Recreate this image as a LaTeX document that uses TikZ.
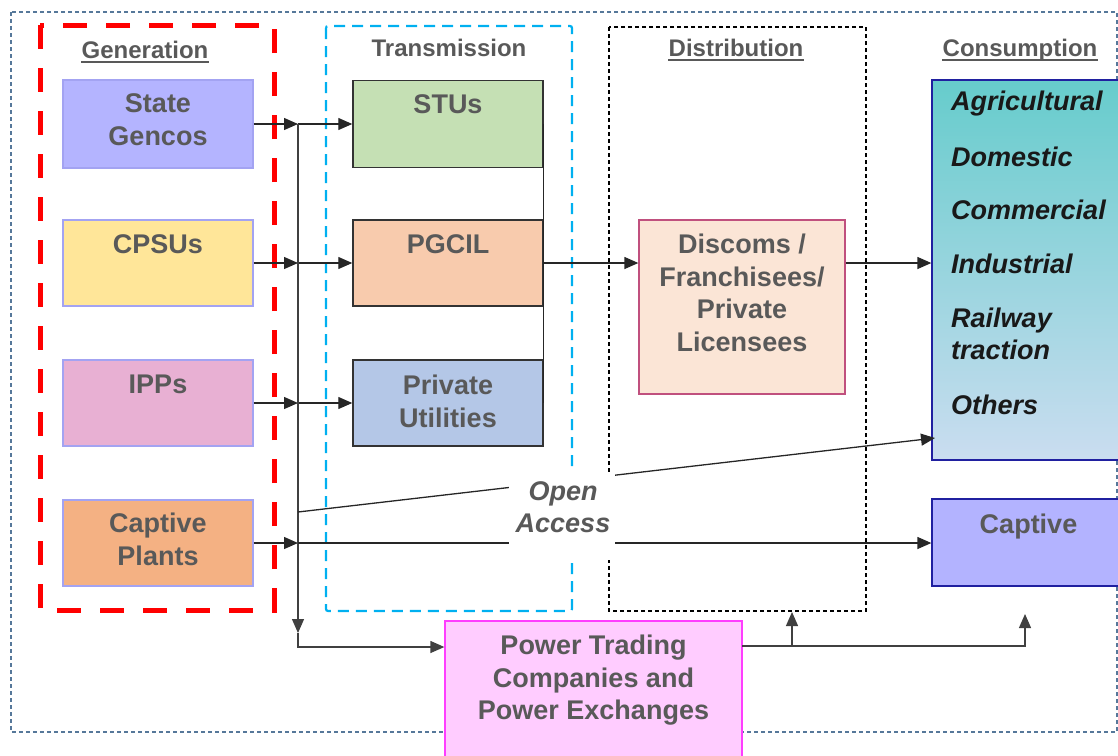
\documentclass[tikz,border=0pt]{standalone}
\usepackage{fontspec}
\setmainfont{Liberation Sans}
\usetikzlibrary{arrows.meta,calc}
\definecolor{txtgrey}{HTML}{595959}
\definecolor{genedge}{HTML}{A3A3F2}
\definecolor{sgfill}{HTML}{B4B4FF}
\definecolor{cpfill}{HTML}{FFE699}
\definecolor{ipfill}{HTML}{E8B0D3}
\definecolor{cafill}{HTML}{F4B183}
\definecolor{stufill}{HTML}{C5E0B4}
\definecolor{pgfill}{HTML}{F8CBAD}
\definecolor{pufill}{HTML}{B4C7E7}
\definecolor{disfill}{HTML}{FBE5D6}
\definecolor{disedge}{HTML}{C0507E}
\definecolor{constop}{HTML}{66CCCC}
\definecolor{consbot}{HTML}{CADDF0}
\definecolor{navyedge}{HTML}{2020A0}
\definecolor{ccfill}{HTML}{B3B3FF}
\definecolor{ptfill}{HTML}{FFCCFF}
\definecolor{ptedge}{HTML}{FF3DFF}
\definecolor{outeredge}{HTML}{56789A}
\definecolor{cyanedge}{HTML}{00B0F0}
\newcommand\boxfont{\fontsize{27}{32.5}\selectfont\bfseries}
\newcommand\headfont{\fontsize{24}{28}\selectfont\bfseries}
\begin{document}
\begin{tikzpicture}[x=1pt,y=-1pt,
  genbox/.style={draw=genedge, line width=1.2pt, minimum width=190pt, inner sep=0pt},
  trbox/.style={draw=black!80, line width=1.5pt, minimum width=190pt, inner sep=0pt},
  lbl/.style={anchor=north, inner sep=0pt, align=center, text=txtgrey, font=\boxfont},
  conslbl/.style={anchor=west, inner sep=0pt, align=left, text=black!90, font=\boxfont\itshape},
  head/.style={anchor=base, inner sep=0pt, text=txtgrey, font=\headfont},
  ul/.style={draw=txtgrey, line width=2pt},
  arr/.style={line width=1.3pt, -{Triangle[length=14pt,width=12pt]}},
  bus/.style={draw=black!75, line width=2pt},
  link/.style={draw=black!85, line width=1.3pt}]
\useasboundingbox (0,0) rectangle (1118,755);
\clip (0,0) rectangle (1118,755);

% sector frames
\draw[outeredge, line width=1.1pt, dash pattern=on 4pt off 3pt] (11,12) rectangle (1117,732);
\draw[red, line width=5pt, dash pattern=on 24pt off 19pt] (40,25) rectangle (274,610);
\draw[cyanedge, line width=2.2pt, dash pattern=on 11pt off 7pt, rounded corners=2pt] (326,26) rectangle (572,611);
\draw[black, line width=1.2pt, dash pattern=on 4pt off 3pt] (609,27) rectangle (866,611);

% headings
\node[head] (hgen) at (145,58) {Generation};
\draw[ul] ([yshift=-4pt]hgen.base west) -- ([yshift=-4pt]hgen.base east);
\node[head] (htr) at (449,56) {Transmission};
\node[head] (hdis) at (736,56) {Distribution};
\draw[ul] ([yshift=-4pt]hdis.base west) -- ([yshift=-4pt]hdis.base east);
\node[head] (hcon) at (1020,56) {Consumption};
\draw[ul] ([yshift=-4pt]hcon.base west) -- ([yshift=-4pt]hcon.base east);

% generation
\node[genbox, fill=sgfill, minimum height=88pt] (sg) at (158,124) {};
\node[lbl] (sgt) at ([yshift=-14.5pt]sg.north) {State\\Gencos};
\node[genbox, fill=cpfill, minimum height=86pt] (cp) at (158,263) {};
\node[lbl] (cpt) at ([yshift=-15.5pt]cp.north) {CPSUs};
\node[genbox, fill=ipfill, minimum height=86pt] (ip) at (158,403) {};
\node[lbl] (ipt) at ([yshift=-15.5pt]ip.north) {IPPs};
\node[genbox, fill=cafill, minimum height=86pt] (ca) at (158,543) {};
\node[lbl] (cat) at ([yshift=-13.5pt]ca.north) {Captive\\Plants};

% transmission
\node[trbox, fill=stufill, minimum height=87pt] (stu) at (448,124) {};
\node[lbl] (stut) at ([yshift=-14.5pt]stu.north) {STUs};
\node[trbox, fill=pgfill, minimum height=86pt] (pg) at (448,263) {};
\node[lbl] (pgt) at ([yshift=-15.5pt]pg.north) {PGCIL};
\node[trbox, fill=pufill, minimum height=86pt] (pu) at (448,403) {};
\node[lbl] (put) at ([yshift=-15.5pt]pu.north) {Private\\Utilities};

% distribution
\node[draw=disedge, line width=1.3pt, fill=disfill, minimum width=206pt, minimum height=174pt, inner sep=0pt] (dis) at (742,307) {};
\node[lbl] (dist) at ([yshift=-14.5pt]dis.north) {Discoms /\\Franchisees/\\Private\\Licensees};

% consumption
\node[draw=navyedge, line width=1.3pt, top color=constop, bottom color=consbot, minimum width=193pt, minimum height=380pt, inner sep=0pt] (cons) at (1028.5,270) {};
\node[conslbl] (c1) at (951,104) {Agricultural};
\node[conslbl] (c2) at (951,157) {Domestic};
\node[conslbl] (c3) at (951,210) {Commercial};
\node[conslbl] (c4) at (951,264) {Industrial};
\node[conslbl] (c5) at (951,334) {Railway\\traction};
\node[conslbl] (c6) at (951,405) {Others};
\node[draw=navyedge, line width=1.3pt, fill=ccfill, minimum width=193pt, minimum height=87pt, inner sep=0pt] (cc) at (1028.5,542.5) {};
\node[lbl] (cct) at ([yshift=-15.5pt]cc.north) {Captive};

% trading
\node[draw=ptedge, line width=1.3pt, fill=ptfill, minimum width=297pt, minimum height=139pt, inner sep=0pt] (pt) at (593.5,690.5) {};
\node[lbl] (ptt) at ([yshift=-14.5pt]pt.north) {Power Trading\\Companies and\\Power Exchanges};

% junction points on the generation bus
\coordinate (b1) at (298,124);
\coordinate (b2) at (298,263);
\coordinate (b3) at (298,403);
\coordinate (b4) at (298,543);
\coordinate (bdn) at (298,633);
\coordinate (bend) at (298,647);
\coordinate (oaS) at (298,512);
\coordinate (oaE) at (935,438);
\coordinate (ptR) at (742,646);
\coordinate (disUp) at (792,612);
\coordinate (capUp) at (1025,614);

% connectors
\draw[link, arr] (sg.east) -- (b1);
\draw[link, arr] (cp.east) -- (b2);
\draw[link, arr] (ip.east) -- (b3);
\draw[link, arr] (ca.east) -- (b4);
\draw[link, arr] (b1) -- (b1 -| stu.west);
\draw[link, arr] (b2) -- (b2 -| pg.west);
\draw[link, arr] (b3) -- (b3 -| pu.west);
\draw[bus, arr] (b1) -- (bdn);
\draw[bus, arr] (bdn) -- (bend) -- (bend -| pt.west);
\draw[link] (stu.east) -- (pu.east);
\draw[link, arr] (pg.east) -- (pg.east -| dis.west);
\draw[link, arr] (pg.east -| dis.east) -- (pg.east -| cons.west);
\draw[link, arr] (b4) -- (b4 -| cc.west);
\draw[link, arr] (oaS) -- (oaE);
\draw[bus, arr] (ptR) -| (capUp);
\draw[bus, arr] (disUp |- ptR) -- (disUp);

% open access label over the lines
\node[fill=white, minimum width=106pt, minimum height=87pt, inner sep=0pt] (oamask) at (562,516.5) {};
\node[align=center, inner sep=0pt, text=txtgrey, font=\boxfont\itshape] (oa) at (563,507) {Open\\Access};
\end{tikzpicture}
\end{document}
